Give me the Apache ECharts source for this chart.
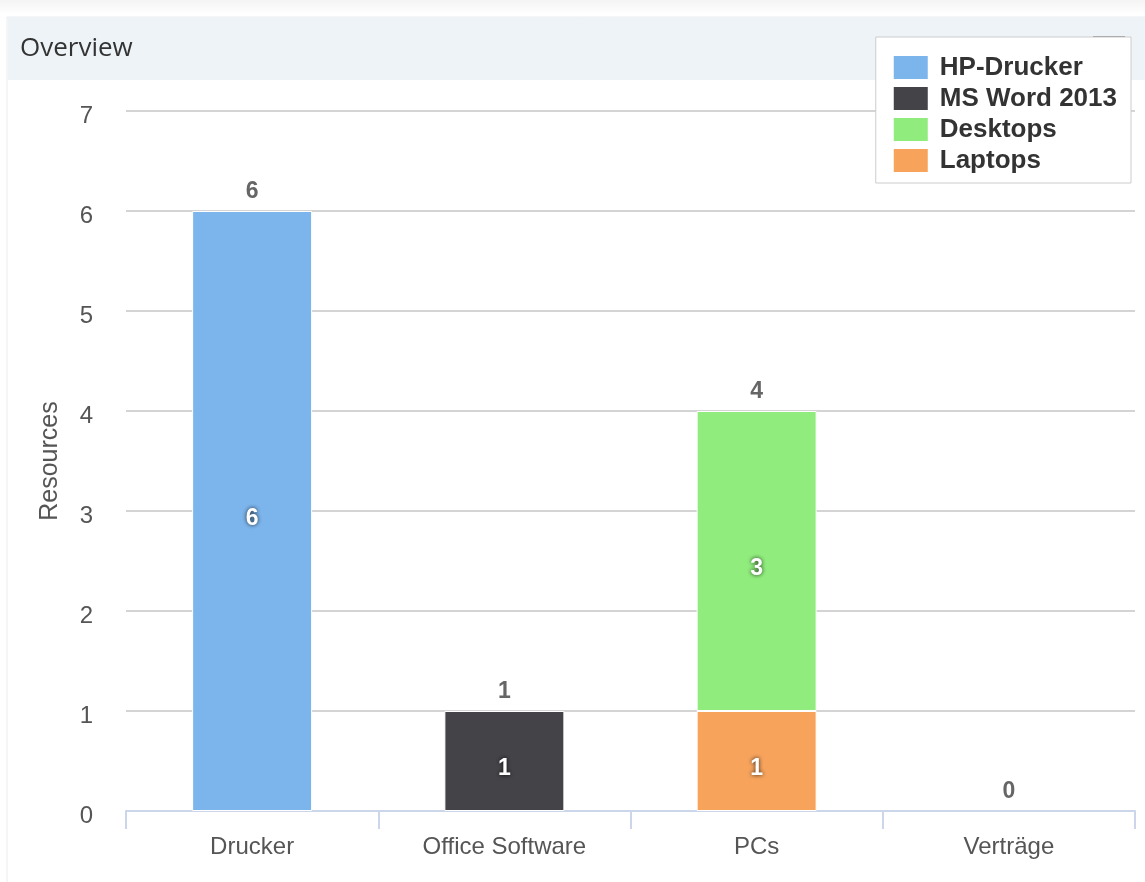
<!DOCTYPE html>
<html>
<head>
<meta charset="utf-8">
<script src="https://cdn.jsdelivr.net/npm/echarts@6/dist/echarts.min.js"></script>
<style>
  html, body { margin: 0; padding: 0; background: #ffffff; }
  #chart { width: 1145px; height: 882px; }
</style>
</head>
<body>
<div id="chart"></div>
<script>
// Resource categories and per-series counts
const categories = ['Drucker', 'Office Software', 'PCs', 'Verträge'];
const hpDrucker  = [6, 0, 0, 0];
const msWord2013 = [0, 1, 0, 0];
const desktops   = [0, 0, 3, 0];
const laptops    = [0, 0, 1, 0];
const yTicks = [0, 1, 2, 3, 4, 5, 6, 7];

const totals = categories.map((_, i) => hpDrucker[i] + msWord2013[i] + desktops[i] + laptops[i]);

const font = '"Liberation Sans", Arial, sans-serif';

const innerLabel = {
  show: true,
  position: 'inside',
  offset: [0, 8],
  color: '#ffffff',
  fontFamily: font,
  fontWeight: 'bold',
  fontSize: 23,
  textShadowColor: 'rgba(0,0,0,0.8)',
  textShadowBlur: 4,
  formatter: p => (p.value > 0 ? p.value : '')
};

// Empty stack segments get no outline so they do not paint over the axis line
function barSeries(name, values, color) {
  return {
    name: name,
    type: 'bar',
    stack: 'resources',
    data: values.map(v => (v > 0 ? v : { value: v, itemStyle: { borderWidth: 0 } })),
    barWidth: 120,
    itemStyle: { color: color, borderColor: '#ffffff', borderWidth: 1 },
    label: innerLabel,
    emphasis: { disabled: true }
  };
}

const chart = echarts.init(document.getElementById('chart'), null, { renderer: 'canvas' });

chart.setOption({
  animation: false,
  backgroundColor: '#ffffff',
  graphic: [
    {
      type: 'rect',
      shape: { x: 0, y: 0, width: 1145, height: 14 },
      style: {
        fill: new echarts.graphic.LinearGradient(0, 0, 0, 1, [
          { offset: 0, color: '#f4f4f4' },
          { offset: 1, color: '#ffffff' }
        ])
      },
      silent: true, z: -10
    },
    {
      type: 'rect',
      shape: { x: 7, y: 17, width: 1145, height: 880 },
      style: { fill: '#ffffff', stroke: '#e8ecf0', lineWidth: 1 },
      silent: true, z: -9
    },
    {
      type: 'rect',
      shape: { x: 8, y: 17, width: 1140, height: 63 },
      style: { fill: '#eef3f8' },
      silent: true, z: -8
    },
    {
      type: 'rect',
      shape: { x: 1093, y: 36, width: 32, height: 3 },
      style: { fill: '#8c8c8c' },
      silent: true, z: -7
    }
  ],
  title: {
    text: 'Overview',
    left: 20,
    top: 36,
    padding: 0,
    textStyle: { fontFamily: '"Open Sans", sans-serif', fontSize: 26, fontWeight: 'normal', color: '#333333' }
  },
  legend: {
    orient: 'vertical',
    right: 14,
    top: 37,
    padding: [17, 14, 9, 16],
    backgroundColor: '#ffffff',
    borderColor: '#cccccc',
    borderWidth: 1,
    itemWidth: 36,
    itemHeight: 25,
    itemGap: 4,
    icon: 'rect',
    selectedMode: false,
    data: ['HP-Drucker', 'MS Word 2013', 'Desktops', 'Laptops'],
    textStyle: { fontFamily: font, fontSize: 26, fontWeight: 'bold', color: '#333333', padding: [0, 0, 0, 6] }
  },
  grid: { left: 126, right: 10, top: 111, bottom: 71, containLabel: false },
  xAxis: {
    type: 'category',
    data: categories,
    axisLine: { lineStyle: { color: '#ccd6eb', width: 2 } },
    axisTick: { show: true, length: 18, lineStyle: { color: '#ccd6eb', width: 2 } },
    axisLabel: { fontFamily: font, fontSize: 24, color: '#555555', margin: 24 }
  },
  yAxis: {
    type: 'value',
    min: yTicks[0],
    max: yTicks[yTicks.length - 1],
    interval: 1,
    name: 'Resources',
    nameLocation: 'middle',
    nameGap: 63,
    nameRotate: 90,
    nameTextStyle: { fontFamily: font, fontSize: 25, color: '#555555' },
    axisLine: { show: false },
    axisTick: { show: false },
    // tick labels sit slightly below their grid line
    axisLabel: { fontFamily: font, fontSize: 24, color: '#555555', margin: 33, verticalAlign: 'top', lineHeight: 10 },
    splitLine: { lineStyle: { color: '#d4d4d4', width: 2 } }
  },
  series: [
    barSeries('Laptops', laptops, '#f7a35c'),
    barSeries('Desktops', desktops, '#90ed7d'),
    barSeries('MS Word 2013', msWord2013, '#434348'),
    barSeries('HP-Drucker', hpDrucker, '#7cb5ec'),
    {
      name: 'Total',
      type: 'bar',
      data: totals,
      barWidth: 120,
      barGap: '-100%',
      itemStyle: { color: 'rgba(0,0,0,0)', borderWidth: 0 },
      label: {
        show: true,
        position: 'top',
        distance: 8,
        fontFamily: font,
        fontWeight: 'bold',
        fontSize: 23,
        color: '#666666'
      },
      z: 5,
      silent: true,
      emphasis: { disabled: true }
    }
  ]
});
</script>
</body>
</html>
